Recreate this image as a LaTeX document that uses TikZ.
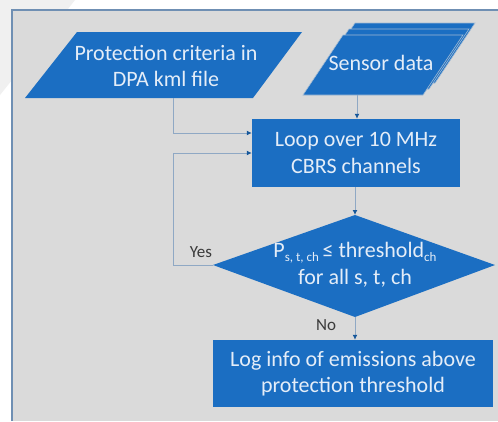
\documentclass[tikz,border=0pt]{standalone}
\usepackage{fontspec}
\setmainfont{Carlito}
\usetikzlibrary{arrows.meta}
\definecolor{flowblue}{HTML}{1B6EC2}
\definecolor{panelgray}{HTML}{DADADA}
\definecolor{panelborder}{HTML}{6F8FB3}
\definecolor{boxtext}{HTML}{E4EDF8}
\definecolor{linecol}{HTML}{8FA8C4}
\definecolor{labelcol}{HTML}{3A3A3A}
\tikzset{
  shapefill/.style={fill=flowblue},
  boxtxt/.style={text=boxtext, font=\fontsize{22}{26.5}\selectfont, align=center, inner sep=0pt},
  procbox/.style={fill=flowblue, text=boxtext, font=\fontsize{22}{26.5}\selectfont, align=center, inner sep=0pt},
  conn/.style={draw=linecol, line width=1pt, -{Latex[length=5pt,width=5pt,color=flowblue!80!black]}},
  lbl/.style={text=labelcol, font=\fontsize{17}{20}\selectfont, inner sep=0pt}
}
\begin{document}
\begin{tikzpicture}[x=1pt,y=-1pt]
\useasboundingbox (0,0) rectangle (498,421);
% slide background
\fill[white] (0,0) rectangle (498,421);
\fill[black!6] (0,0) -- (75,0) -- (12,80) -- (0,95) -- cycle;
% panel
\fill[panelgray] (12,10) rectangle (498,421);
\draw[panelborder, line width=2pt] (12,421) -- (12,10) -- (498,10);

% DPA parallelogram
\fill[shapefill] (77,32) -- (302,32) -- (253,98) -- (25,98) -- cycle;
\node[boxtxt] (dpa) at (166,66) {Protection criteria in\\DPA kml file};
\coordinate (dpaout) at (173,98);

% Sensor data (stacked)
\fill[shapefill, draw=panelgray!70!flowblue, line width=0.6pt] (355,23) -- (475,23) -- (435,83) -- (315,83) -- cycle;
\fill[shapefill, draw=panelgray!70!flowblue, line width=0.6pt] (349,29) -- (469,29) -- (429,89) -- (309,89) -- cycle;
\fill[shapefill, draw=panelgray!70!flowblue, line width=0.6pt] (343,35) -- (463,35) -- (423,95) -- (303,95) -- cycle;
\node[boxtxt] (sensor) at (381,63) {Sensor data};
\coordinate (sensorout) at (357,95);

% Loop box
\node[procbox, minimum width=208pt, minimum height=68pt] (loop) at (356,153) {Loop over 10 MHz\\CBRS channels};

% Decision diamond
\fill[shapefill] (355,215) -- (495,265) -- (355,317) -- (213,265) -- cycle;
\coordinate (dtop) at (355,215);
\coordinate (dleft) at (213,265);
\coordinate (dbot) at (355,317);
\node[boxtxt] (cond) at (355,265) {P{\fontsize{13}{13}\selectfont\raisebox{-4pt}{s, t, ch}}\,≤ threshold{\fontsize{13}{13}\selectfont\raisebox{-4pt}{ch}}\\for all s, t, ch};

% Log box
\node[procbox, minimum width=280pt, minimum height=67pt] (log) at (353,373.5) {Log info of emissions above\\protection threshold};

% connectors
\draw[conn] (dpaout) -- (173,133) -- (loop.west |- 0,133);
\draw[conn] (sensorout) -- (loop.north -| sensorout);
\draw[conn] (loop.south -| dtop) -- (dtop);
\draw[conn] (dleft) -- (173,265) -- (173,153) -- (loop.west |- 0,153);
\draw[conn] (dbot) -- (log.north -| dbot);

% labels
\node[lbl] (yes) at (201,252) {Yes};
\node[lbl] (no) at (326,325) {No};
\end{tikzpicture}
\end{document}
